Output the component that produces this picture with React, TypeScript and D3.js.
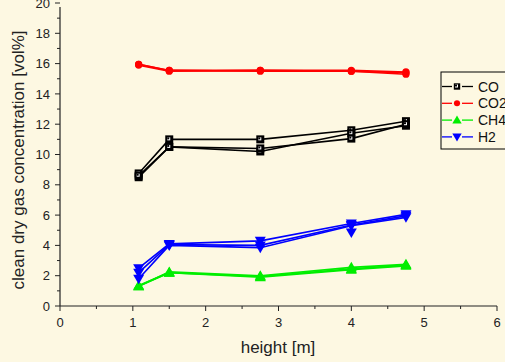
import { scaleLinear, line, range } from "d3";

const WIDTH = 505;
const HEIGHT = 362;
const BG = "#fdf8e2";

const HEIGHTS = [1.08, 1.5, 2.75, 4.0, 4.75];
const X_TICKS = [0, 1, 2, 3, 4, 5, 6];
const Y_TICKS = [0, 2, 4, 6, 8, 10, 12, 14, 16, 18, 20];

// repeated measurement runs per gas (vol%)
const CO_RUNS = [
  [8.75, 11.0, 11.0, 11.6, 12.2],
  [8.5, 10.5, 10.2, 11.4, 11.9],
  [8.6, 10.5, 10.4, 11.05, 12.0],
];
const CO2_RUNS = [
  [15.95, 15.55, 15.55, 15.55, 15.45],
  [15.9, 15.5, 15.55, 15.5, 15.3],
  [15.95, 15.55, 15.5, 15.5, 15.4],
];
const CH4_RUNS = [
  [1.3, 2.25, 2.0, 2.55, 2.75],
  [1.3, 2.2, 1.9, 2.4, 2.65],
  [1.35, 2.2, 1.95, 2.45, 2.7],
];
const H2_RUNS = [
  [2.5, 4.1, 4.3, 5.45, 6.05],
  [2.2, 4.05, 4.0, 5.35, 5.95],
  [1.8, 4.0, 3.85, 5.3, 5.85],
  [null, null, null, 4.85, null],
];

type Marker = "square" | "circle" | "up" | "down";

const SERIES: { name: string; color: string; marker: Marker; runs: (number | null)[][] }[] = [
  { name: "CO", color: "#000000", marker: "square", runs: CO_RUNS },
  { name: "CO2", color: "#ff0000", marker: "circle", runs: CO2_RUNS },
  { name: "CH4", color: "#00ee00", marker: "up", runs: CH4_RUNS },
  { name: "H2", color: "#0000ff", marker: "down", runs: H2_RUNS },
];

const MARGIN = { left: 60, right: 8, top: 3, bottom: 56 };

function MarkerShape({ type, x, y, color, s = 1 }: { type: Marker; x: number; y: number; color: string; s?: number }) {
  if (type === "square") {
    return (
      <g>
        <rect x={x - 4 * s} y={y - 4 * s} width={8 * s} height={8 * s} fill={color} />
        <rect x={x - 2} y={y - 2} width={3} height={3} fill="#ffffff" />
        <rect x={x - 2} y={y - 2} width={2} height={2} fill={color} />
      </g>
    );
  }
  if (type === "circle") return <circle cx={x} cy={y} r={3.6 * s} fill={color} />;
  if (type === "up")
    return <path d={`M${x},${y - 5.5 * s}L${x + 5.5 * s},${y + 4 * s}L${x - 5.5 * s},${y + 4 * s}Z`} fill={color} />;
  return <path d={`M${x},${y + 5.5 * s}L${x + 5.5 * s},${y - 4 * s}L${x - 5.5 * s},${y - 4 * s}Z`} fill={color} />;
}

export default function App() {
  const x = scaleLinear().domain([0, 6]).range([MARGIN.left, 497]);
  const y = scaleLinear().domain([0, 20]).range([HEIGHT - MARGIN.bottom, MARGIN.top]);
  const x0 = x(0);
  const y0 = y(0);

  const path = line<number | null>()
    .defined((d) => d !== null)
    .x((_, i) => x(HEIGHTS[i]))
    .y((d) => y(d as number));

  const font = "'Liberation Sans', Arial, sans-serif";

  const legendX = 441;
  const legendY = 72;
  const rowH = 16.8;

  return (
    <svg
      width={WIDTH}
      height={HEIGHT}
      style={{ position: "absolute", left: 0, top: 0, background: BG }}
      fontFamily={font}
    >
      <rect width={WIDTH} height={HEIGHT} fill={BG} />

      {/* series lines */}
      {SERIES.map((s) =>
        s.runs.map((run, ri) => (
          <path key={s.name + ri} d={path(run) ?? ""} fill="none" stroke={s.color} strokeWidth={1.6} />
        ))
      )}
      {/* markers */}
      {SERIES.map((s) =>
        s.runs.map((run, ri) =>
          run.map((v, i) =>
            v === null ? null : (
              <MarkerShape key={`${s.name}-${ri}-${i}`} type={s.marker} x={x(HEIGHTS[i])} y={y(v)} color={s.color} />
            )
          )
        )
      )}

      {/* x axis */}
      <line x1={x0} x2={x(6)} y1={y0} y2={y0} stroke="#222" strokeWidth={1.2} />
      {range(0, 6.01, 0.5).map((t) => (
        <line key={"xt" + t} x1={x(t)} x2={x(t)} y1={y0} y2={y0 + (t % 1 === 0 ? 5 : 3)} stroke="#222" />
      ))}
      {X_TICKS.map((t) => (
        <text key={"xl" + t} x={x(t)} y={y0 + 21} textAnchor="middle" fontSize={13} fill="#222">
          {t}
        </text>
      ))}
      <text x={278} y={353} textAnchor="middle" fontSize={17} fill="#222">
        height [m]
      </text>

      {/* y axis */}
      <line x1={x0} x2={x0} y1={y0} y2={7} stroke="#222" strokeWidth={1.2} />
      {range(0, 20.01, 1).map((t) => (
        <line key={"yt" + t} x1={x0} x2={x0 - (t % 2 === 0 ? 5 : 3)} y1={y(t)} y2={y(t)} stroke="#222" />
      ))}
      {Y_TICKS.map((t) => (
        <text key={"yl" + t} x={x0 - 10} y={y(t) + 4.6} textAnchor="end" fontSize={13} fill="#222">
          {t}
        </text>
      ))}
      <text
        transform={`translate(24,160) rotate(-90)`}
        textAnchor="middle"
        fontSize={17}
        fill="#222"
      >
        clean dry gas concentration [vol%]
      </text>

      {/* legend */}
      <rect x={legendX} y={legendY} width={80} height={77} fill={BG} stroke="#000" strokeWidth={1} />
      {SERIES.map((s, i) => {
        const cy = legendY + 14.5 + i * rowH;
        const mx = legendX + 16;
        return (
          <g key={"lg" + s.name}>
            <line x1={legendX + 1} x2={mx - 5} y1={cy} y2={cy} stroke={s.color} strokeWidth={1.3} />
            <line x1={mx + 5} x2={mx + 16} y1={cy} y2={cy} stroke={s.color} strokeWidth={1.3} />
            <MarkerShape type={s.marker} x={mx} y={cy} color={s.color} s={s.marker === "square" ? 0.8 : 0.85} />
            <text x={legendX + 37} y={cy + 5} fontSize={14} fill="#111">
              {s.name}
            </text>
          </g>
        );
      })}
    </svg>
  );
}
